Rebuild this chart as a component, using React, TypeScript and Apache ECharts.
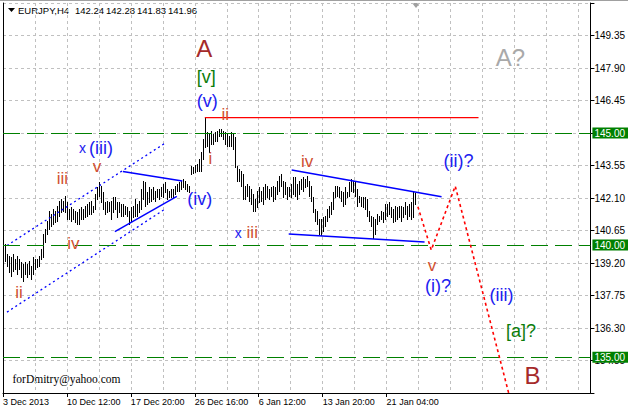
import React, { useEffect, useRef } from 'react';
import * as echarts from 'echarts';

const FONT = "'Liberation Sans', Arial, sans-serif";
const SERIF = "'Liberation Serif', 'Times New Roman', serif";

const SYMBOL = 'EURJPY,H4';
const LAST_OHLC = [142.24, 142.28, 141.83, 141.96];
const SIGNATURE = 'forDmitry@yahoo.com';

const X_MIN = 0;
const X_MAX = 294;
const X_TICK_BARS = [0, 32, 64, 96, 128, 160, 192];
const X_TICK_LABELS = ['3 Dec 2013', '10 Dec 12:00', '17 Dec 20:00', '26 Dec 16:00', '6 Jan 12:00', '13 Jan 20:00', '21 Jan 04:00'];

const Y_MIN = 133.4;
const Y_MAX = 150.8;
const Y_STEP = 1.45;
const LEVELS = [145.0, 140.0, 135.0];

const BAR_HIGH = [
  140.03, 139.58, 139.49, 139.45, 139.58, 139.36, 139.49, 139.36, 139.22, 139.13,
  139.22, 139.13, 139.27, 139.04, 139.45, 139.36, 139.36, 139.49, 139.80, 140.47,
  140.69, 141.05, 141.50, 141.36, 141.59, 141.50, 141.72, 141.94, 142.03, 141.94,
  142.17, 141.90, 141.59, 141.68, 141.59, 141.50, 141.45, 141.59, 141.68, 141.59,
  141.72, 141.81, 141.90, 141.94, 141.72, 142.26, 142.57, 142.79, 142.61, 142.35,
  141.90, 141.94, 141.90, 141.94, 142.12, 142.12, 141.90, 141.90, 141.81, 141.81,
  141.72, 141.68, 141.50, 141.68, 141.72, 142.03, 141.81, 141.94, 142.48, 142.84,
  142.79, 142.35, 142.57, 142.48, 142.57, 142.39, 142.48, 142.48, 142.57, 142.70,
  142.79, 142.48, 142.39, 142.48, 142.48, 142.61, 142.70, 142.79, 142.84, 142.93,
  142.84, 142.70, 142.61, 143.51, 143.46, 143.55, 143.59, 143.82, 144.13, 144.71,
  145.69, 145.02, 144.93, 145.07, 144.93, 145.02, 145.07, 145.16, 145.16, 145.07,
  145.02, 144.93, 144.84, 145.02, 144.93, 144.80, 143.51, 143.37, 143.28, 143.15,
  142.61, 142.70, 142.61, 142.48, 142.26, 142.03, 142.39, 142.57, 142.39, 142.57,
  142.70, 142.61, 142.48, 142.57, 142.61, 142.57, 142.84, 143.06, 143.15, 142.84,
  142.79, 142.57, 142.57, 142.70, 143.01, 143.01, 142.70, 142.84, 142.93, 143.01,
  142.93, 143.06, 142.84, 142.61, 142.12, 141.59, 141.50, 141.14, 141.14, 141.23,
  141.27, 141.59, 141.72, 141.90, 142.35, 142.61, 142.61, 142.57, 142.39, 142.35,
  142.57, 142.35, 142.79, 142.93, 142.84, 142.79, 142.48, 142.17, 142.12, 142.12,
  142.12, 142.03, 141.50, 141.27, 141.23, 141.14, 141.36, 141.27, 141.50, 141.45,
  141.81, 141.81, 141.90, 141.68, 141.59, 141.72, 141.68, 141.72, 141.72, 141.68,
  141.90, 141.72, 141.81, 141.90, 142.39, 142.28,
];

const BAR_LOW = [
  139.27, 139.04, 138.78, 138.60, 138.82, 138.91, 138.69, 138.91, 138.55, 138.37,
  138.69, 138.55, 138.69, 138.46, 138.69, 138.91, 139.00, 139.04, 139.36, 139.45,
  140.12, 140.47, 140.69, 140.83, 140.92, 141.01, 141.05, 141.27, 141.45, 141.50,
  141.45, 141.14, 141.14, 141.05, 141.14, 141.01, 140.92, 140.92, 141.14, 141.14,
  141.23, 141.27, 141.36, 141.36, 141.45, 141.59, 142.03, 142.17, 141.90, 141.59,
  141.36, 141.45, 141.50, 141.14, 141.45, 141.59, 141.23, 141.45, 141.27, 141.27,
  141.36, 141.27, 140.92, 141.05, 141.23, 141.27, 141.27, 141.45, 141.59, 142.03,
  141.72, 141.81, 141.90, 141.94, 142.03, 141.94, 142.12, 142.03, 142.17, 142.12,
  142.35, 142.03, 142.12, 142.12, 142.12, 142.26, 142.39, 142.39, 142.48, 142.57,
  142.48, 142.39, 142.35, 143.15, 143.19, 143.24, 143.28, 143.28, 143.28, 143.82,
  144.35, 144.40, 144.13, 144.49, 144.49, 144.62, 144.62, 144.84, 144.84, 144.71,
  144.49, 144.40, 144.40, 144.40, 144.27, 143.46, 142.84, 142.84, 142.61, 142.03,
  142.03, 142.17, 141.94, 141.81, 141.50, 141.50, 141.68, 141.90, 141.94, 141.81,
  142.03, 142.12, 142.03, 142.17, 141.94, 142.03, 142.26, 142.39, 142.61, 142.12,
  142.26, 142.03, 142.17, 142.12, 142.26, 142.17, 142.03, 142.26, 142.48, 142.39,
  142.57, 142.61, 142.17, 141.94, 141.45, 141.05, 140.92, 140.47, 140.43, 140.61,
  140.83, 141.05, 141.23, 141.36, 141.59, 142.12, 142.17, 142.12, 141.94, 141.72,
  141.81, 142.12, 142.17, 142.39, 142.35, 142.17, 141.72, 141.90, 141.72, 141.68,
  141.59, 141.27, 141.05, 140.83, 140.29, 140.47, 140.92, 141.05, 141.14, 141.01,
  141.14, 141.27, 141.36, 141.23, 141.01, 141.05, 141.14, 141.23, 141.05, 141.23,
  141.36, 141.14, 141.27, 141.14, 141.23, 141.83,
];

// trend lines: [bar position, price]
const RESIST_LINE = [[101, 145.69], [238, 145.69]];
const CHANNEL_UPPER = [[2, 139.98], [81, 144.54]];
const CHANNEL_LOWER = [[2, 137.01], [81.5, 141.63]];
const WEDGE_UPPER = [[60, 143.28], [89.75, 142.86]];
const WEDGE_LOWER = [[56, 140.6], [87, 142.17]];
const TRI_UPPER = [[144.5, 143.35], [219.5, 142.16]];
const TRI_LOWER = [[143, 140.49], [211, 140.14]];
const PROJECTION = [[207.65, 141.71], [214.35, 139.78], [226.35, 142.63], [254.3, 132.98]];

// wave labels: [text, bar position, price, degree]
const WAVE_LABELS: [string, number, number, string][] = [
  ['A', 100.75, 148.75, 'major'],
  ['[v]', 101.75, 147.52, 'green'],
  ['(v)', 102.25, 146.45, 'minute'],
  ['ii', 111.25, 145.83, 'minor'],
  ['i', 103.75, 143.86, 'minor'],
  ['x', 39.75, 144.34, 'minuteX'],
  ['(iii)', 49, 144.31, 'minute'],
  ['v', 47, 143.51, 'minor'],
  ['iii', 29.75, 142.99, 'minor'],
  ['iv', 35.25, 140.07, 'minor'],
  ['ii', 8, 137.88, 'minor'],
  ['(iv)', 98.5, 142.06, 'minute'],
  ['x', 117.75, 140.54, 'minuteX'],
  ['iii', 124.75, 140.54, 'minor'],
  ['iv', 152.25, 143.75, 'minor'],
  ['v', 214.75, 139.07, 'minor'],
  ['(i)?', 217.75, 138.16, 'minute'],
  ['(ii)?', 228, 143.73, 'minute'],
  ['(iii)', 249.5, 137.78, 'minute'],
  ['[a]?', 259.25, 136.15, 'green'],
  ['B', 265, 134.16, 'major'],
  ['A?', 254, 148.37, 'alt'],
];

const LABEL_STYLE: Record<string, { color: string; size: number }> = {
  major: { color: '#a52a2a', size: 24 },
  alt: { color: '#a9a9a9', size: 24 },
  minor: { color: '#d05030', size: 17 },
  minute: { color: '#2020f0', size: 18 },
  minuteX: { color: '#2020f0', size: 14 },
  green: { color: '#0b7d0b', size: 18 },
};

// header layout: left edge of each header token
const HEADER_X = [18, 75, 106, 137, 168];

const BLUE = '#0000ff';
const RED = '#ff0000';
const LEVEL_GREEN = '#008000';

function lineSeries(data: number[][], color: string, width: number, type: any, z = 4) {
  return {
    type: 'line',
    data,
    symbol: 'none',
    showSymbol: false,
    silent: true,
    clip: true,
    z,
    color,
    itemStyle: { color },
    lineStyle: { color, width, type, opacity: 1 },
  };
}

export default function App() {
  const ref = useRef<HTMLDivElement>(null);

  useEffect(() => {
    document.body.style.margin = '0';
    if (!ref.current) return;
    const chart = echarts.init(ref.current, null, { renderer: 'svg' });

    const barData = BAR_HIGH.map((h, i) => [i + 1, BAR_LOW[i], h]);
    const isEdge = (v: number) => Math.abs(v - Y_MIN) < 1e-6 || Math.abs(v - Y_MAX) < 1e-6;

    const headerTokens = [SYMBOL, ...LAST_OHLC.map((v) => v.toFixed(2))];
    const headerTexts = headerTokens.map((t, i) => ({
      type: 'text',
      silent: true,
      x: HEADER_X[i],
      y: 10.5,
      style: { text: t, fill: '#000', fontSize: 9.5, fontFamily: FONT, verticalAlign: 'middle' },
    }));

    const option: any = {
      animation: false,
      backgroundColor: '#ffffff',
      grid: { left: 3, top: 3, width: 588, height: 390, show: false, containLabel: false },
      xAxis: [
        {
          type: 'value',
          min: X_MIN,
          max: X_MAX,
          interval: 16,
          axisLine: { show: true, onZero: false, lineStyle: { color: '#000', width: 1 } },
          axisTick: { show: false },
          axisLabel: { show: false },
          splitLine: { show: true, lineStyle: { color: '#c0c0c0', width: 1, type: [3, 3] } },
        },
        {
          type: 'value',
          position: 'bottom',
          min: X_MIN,
          max: X_MAX,
          interval: 32,
          axisLine: { show: false, onZero: false },
          axisTick: {
            show: true,
            length: 4,
            customValues: X_TICK_BARS,
            lineStyle: { color: '#000', width: 1 },
          },
          axisLabel: {
            show: true,
            customValues: X_TICK_BARS,
            showMinLabel: true,
            formatter: (v: number) => {
              const i = X_TICK_BARS.indexOf(Math.round(v));
              return i >= 0 ? X_TICK_LABELS[i] : '';
            },
            align: 'left',
            margin: 4,
            color: '#000',
            fontSize: 9,
            fontFamily: FONT,
          },
          splitLine: { show: false },
        },
      ],
      yAxis: [
        {
          type: 'value',
          position: 'right',
          min: Y_MIN,
          max: Y_MAX,
          interval: Y_STEP,
          axisLine: { show: true, onZero: false, lineStyle: { color: '#000', width: 1 } },
          axisTick: { show: true, length: 4, inside: false, lineStyle: { color: '#000', width: 1 } },
          axisLabel: {
            show: true,
            margin: 4,
            color: '#000',
            fontSize: 10,
            fontFamily: FONT,
            formatter: (v: number) => (isEdge(v) ? '' : v.toFixed(2)),
          },
          splitLine: { show: true, lineStyle: { color: '#c0c0c0', width: 1, type: [3, 3] } },
        },
        {
          type: 'value',
          position: 'left',
          min: Y_MIN,
          max: Y_MAX,
          interval: Y_STEP,
          axisLine: { show: true, onZero: false, lineStyle: { color: '#000', width: 1 } },
          axisTick: { show: false },
          axisLabel: { show: false },
          splitLine: { show: false },
        },
      ],
      series: [
        {
          type: 'custom',
          xAxisIndex: 0,
          yAxisIndex: 0,
          silent: true,
          z: 3,
          clip: true,
          encode: { x: 0, y: [1, 2] },
          data: barData,
          renderItem: (params: any, api: any) => {
            const v = api.value(0);
            const top = api.coord([v, api.value(2)]);
            const bot = api.coord([v, api.value(1)]);
            const x = Math.round(top[0]) + 0.5;
            let y1 = Math.floor(top[1]);
            let y2 = Math.ceil(bot[1]);
            if (y2 - y1 < 1) y2 = y1 + 1;
            return {
              type: 'line',
              shape: { x1: x, y1, x2: x, y2 },
              style: { stroke: '#000', lineWidth: 1 },
            };
          },
        },
        {
          type: 'line',
          data: [],
          silent: true,
          clip: false,
          z: 2,
          color: LEVEL_GREEN,
          markLine: {
            silent: true,
            symbol: ['none', 'none'],
            animation: false,
            lineStyle: { color: LEVEL_GREEN, width: 1.1, type: [17, 7], opacity: 1 },
            label: {
              show: true,
              position: 'end',
              distance: 2,
              formatter: (p: any) => Number(p.value).toFixed(2),
              color: '#ffffff',
              backgroundColor: LEVEL_GREEN,
              padding: [1, 3, 0, 2],
              lineHeight: 10,
              fontSize: 10,
              fontFamily: FONT,
            },
            emphasis: { disabled: true },
            data: LEVELS.map((l) => ({ yAxis: l })),
          },
        },
        lineSeries(RESIST_LINE, RED, 1.2, 'solid', 6),
        lineSeries(CHANNEL_UPPER, BLUE, 1.3, [2, 3], 4),
        lineSeries(CHANNEL_LOWER, BLUE, 1.3, [2, 3], 4),
        lineSeries(WEDGE_UPPER, BLUE, 1.5, 'solid', 4),
        lineSeries(WEDGE_LOWER, BLUE, 1.5, 'solid', 4),
        lineSeries(TRI_UPPER, BLUE, 1.5, 'solid', 4),
        lineSeries(TRI_LOWER, BLUE, 1.5, 'solid', 4),
        lineSeries(PROJECTION, RED, 1.6, [3, 3], 5),
        {
          type: 'custom',
          silent: true,
          clip: false,
          z: 10,
          data: WAVE_LABELS.map((l) => [l[1], l[2]]),
          renderItem: (params: any, api: any) => {
            const item = WAVE_LABELS[params.dataIndex];
            const pt = api.coord([api.value(0), api.value(1)]);
            const st = LABEL_STYLE[item[3]];
            return {
              type: 'text',
              x: pt[0],
              y: pt[1],
              style: {
                text: item[0],
                fill: st.color,
                fontSize: st.size,
                fontFamily: FONT,
                align: 'center',
                verticalAlign: 'middle',
              },
            };
          },
        },
      ],
      graphic: [
        { type: 'line', silent: true, shape: { x1: 0, y1: 0.5, x2: 628, y2: 0.5 }, style: { stroke: '#a0a0a0', lineWidth: 1 } },
        { type: 'polygon', silent: true, shape: { points: [[8, 8], [15, 8], [11.5, 12]] }, style: { fill: '#000' } },
        ...headerTexts,
        { type: 'polygon', silent: true, shape: { points: [[412, 3], [420, 3], [416, 8]] }, style: { fill: '#a0a0a0' } },
        {
          type: 'text',
          silent: true,
          x: 12.5,
          y: 378.5,
          style: { text: SIGNATURE, fill: '#000', fontSize: 11.5, fontFamily: SERIF, verticalAlign: 'middle' },
        },
      ],
    };

    chart.setOption(option);
    return () => chart.dispose();
  }, []);

  return (
    <div
      ref={ref}
      style={{ position: 'absolute', left: 0, top: 0, width: 628, height: 411, background: '#fff' }}
    />
  );
}
